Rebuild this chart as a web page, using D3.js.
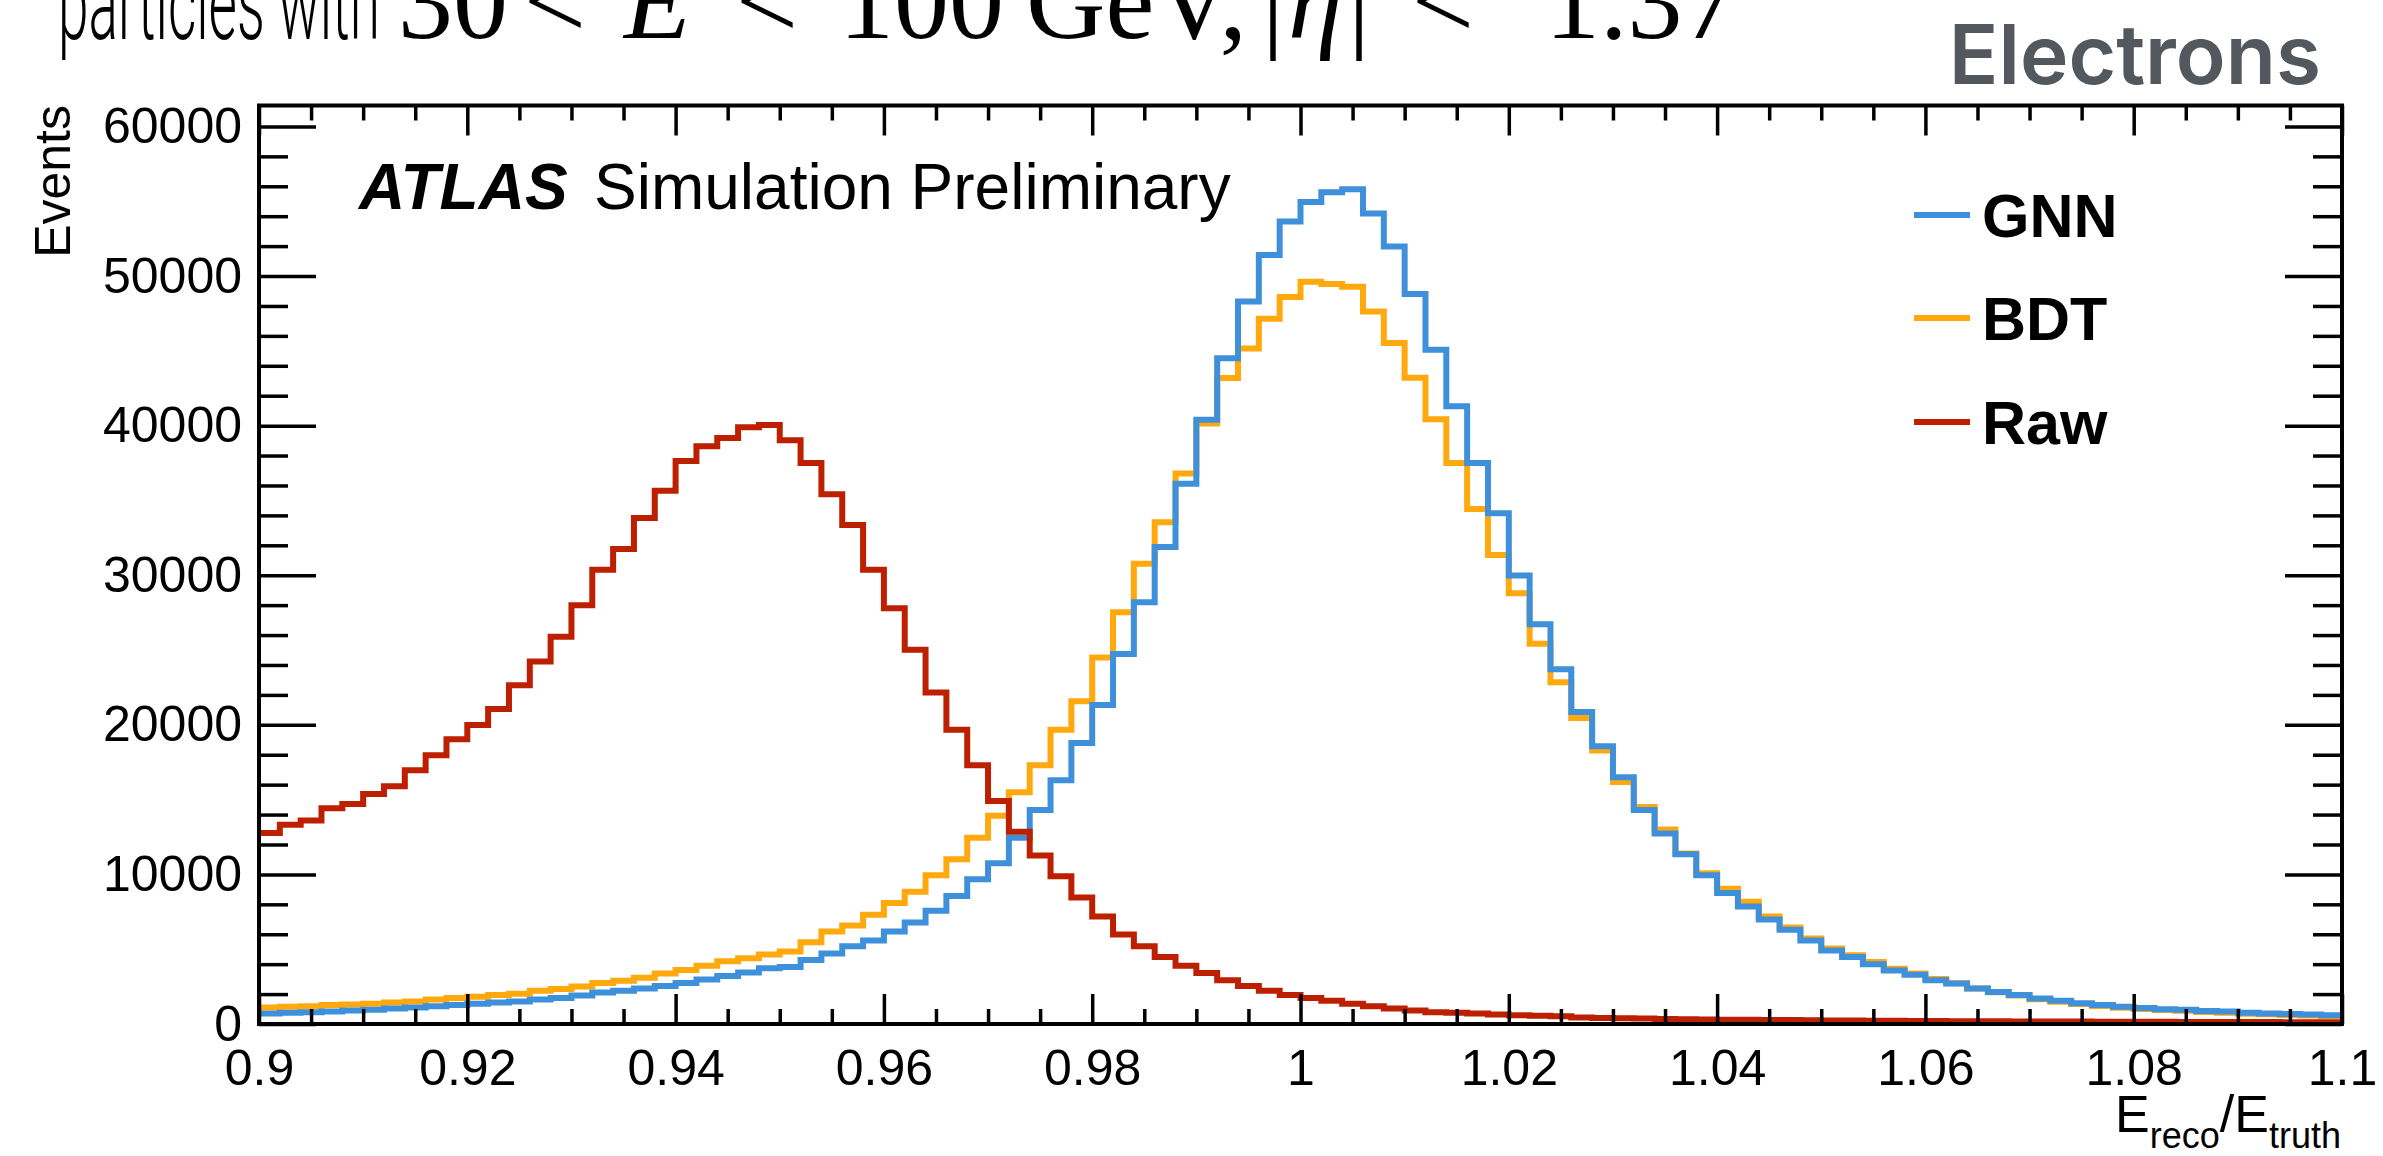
<!DOCTYPE html>
<html>
<head>
<meta charset="utf-8">
<script src="https://cdnjs.cloudflare.com/ajax/libs/d3/7.8.5/d3.min.js"></script>
<style>
  html, body { margin: 0; padding: 0; background: #fff; }
  svg { display: block; }
  .tick text { font-family: "Liberation Sans", Arial, sans-serif; }
</style>
</head>
<body>
<svg width="2383" height="1156"></svg>
<script>
// bins: 100 bins of width 0.002 from 0.9 to 1.1
var binLow = 0.9, binWidth = 0.002;

var gnn = [
  710, 750, 790, 830, 910, 950, 1030, 1110, 1190, 1270,
  1350, 1430, 1510, 1630, 1740, 1900, 2100, 2220, 2380, 2540,
  2740, 2970, 3210, 3450, 3730, 3810, 4280, 4720, 5190, 5590,
  6190, 6780, 7570, 8560, 9670, 10750, 12450, 14310, 16300, 18790,
  21330, 24740, 28190, 31880, 36120, 40400, 44500, 48300, 51400, 53650,
  54950, 55600, 55800, 54180, 51970, 48800, 45080, 41300, 37510, 34140,
  29980, 26730, 23710, 20860, 18560, 16490, 14310, 12730, 11340, 9950,
  8760, 7850, 6980, 6300, 5590, 4920, 4480, 4000, 3570, 3290,
  2930, 2700, 2380, 2140, 1940, 1700, 1550, 1390, 1270, 1150,
  1070, 990, 950, 870, 830, 750, 710, 670, 630, 590
];

var bdt = [
  1110, 1150, 1190, 1270, 1310, 1350, 1430, 1510, 1630, 1740,
  1820, 1940, 2020, 2220, 2340, 2500, 2740, 2890, 3090, 3370,
  3610, 3890, 4200, 4400, 4650, 4850, 5470, 6190, 6580, 7300,
  8090, 8840, 9950, 11020, 12450, 13920, 15500, 17290, 19670, 21570,
  24500, 27520, 30770, 33540, 36800, 40150, 43180, 45150, 47150, 48600,
  49620, 49470, 49290, 47630, 45520, 43200, 40420, 37510, 34420, 31360,
  28790, 25420, 22840, 20460, 18280, 16180, 14510, 13010, 11400, 10070,
  9040, 8170, 7180, 6450, 5710, 5050, 4600, 4150, 3700, 3380,
  3000, 2730, 2380, 2120, 1900, 1650, 1490, 1330, 1200, 1090,
  1000, 930, 880, 800, 760, 690, 650, 610, 570, 540
];

var raw = [
  12770, 13320, 13600, 14430, 14710, 15380, 15900, 16970, 17960, 19030,
  19980, 21050, 22640, 24230, 25890, 27990, 30370, 31760, 33820, 35650,
  37630, 38620, 39170, 39890, 40050, 39020, 37510, 35410, 33350, 30370,
  27790, 25020, 22160, 19670, 17290, 14910, 12850, 11260, 9870, 8450,
  7180, 5990, 5190, 4480, 3890, 3410, 2930, 2540, 2220, 1940,
  1740, 1550, 1350, 1190, 1030, 910, 790, 750, 710, 630,
  590, 555, 515, 440, 400, 380, 360, 340, 320, 300,
  290, 280, 270, 260, 250, 240, 230, 220, 210, 200,
  195, 190, 185, 180, 175, 170, 165, 160, 155, 150,
  150, 145, 140, 140, 135, 130, 130, 125, 120, 120
];

var seriesNames = ["GNN", "BDT", "Raw"];
var seriesColors = ["#3f90da", "#ffa90e", "#bd1f01"];

var xTicks = [0.9, 0.92, 0.94, 0.96, 0.98, 1, 1.02, 1.04, 1.06, 1.08, 1.1];
var yTicks = [0, 10000, 20000, 30000, 40000, 50000, 60000];
var yMax = 61400;

var svg = d3.select("svg"),
    margin = {top: 105.5, right: 41, bottom: 132, left: 259},
    width = +svg.attr("width") - margin.left - margin.right,
    height = +svg.attr("height") - margin.top - margin.bottom,
    g = svg.append("g").attr("transform", "translate(" + margin.left + "," + margin.top + ")");

var x = d3.scaleLinear().domain([0.9, 1.1]).range([0, width]);
var y = d3.scaleLinear().domain([0, yMax]).range([height, 0]);

// minor ticks: every 0.005 on x, every 2000 on y
var xMinor = d3.range(0, 41)
  .filter(function(i) { return i % 4 !== 0; })
  .map(function(i) { return 0.9 + i * 0.005; });
var yMinor = d3.range(0, 31).map(function(i) { return i * 2000; })
  .filter(function(v) { return v % 10000 !== 0 && v <= yMax; });

g.append("clipPath").attr("id", "clip")
  .append("rect").attr("width", width).attr("height", height);

var line = d3.line()
    .x(function(d) { return x(d[0]); })
    .y(function(d) { return y(d[1]); })
    .curve(d3.curveStepAfter);

function steps(vals) {
  var pts = vals.map(function(v, i) { return [binLow + i * binWidth, v]; });
  pts.push([binLow + vals.length * binWidth, vals[vals.length - 1]]);
  return pts;
}

var drawOrder = [[bdt, 1], [gnn, 0], [raw, 2]];
g.append("g").attr("clip-path", "url(#clip)")
  .selectAll("path")
  .data(drawOrder)
  .enter().append("path")
    .attr("d", function(d) { return line(steps(d[0])); })
    .attr("fill", "none")
    .attr("stroke", function(d) { return seriesColors[d[1]]; })
    .attr("stroke-width", 6)
    .attr("stroke-linejoin", "miter");

// axes (ticks point inward, like ROOT)
function styleAxis(sel) {
  sel.select(".domain").remove();
  sel.selectAll("line").attr("stroke", "#000").attr("stroke-width", 3.5);
  sel.selectAll("text").attr("fill", "#000").attr("font-size", 50);
}

g.append("g")
    .attr("transform", "translate(0," + height + ")")
    .call(d3.axisBottom(x).tickValues(xTicks).tickSize(-30).tickPadding(24)
      .tickFormat(function(d) { return d3.format("~g")(d); }))
    .call(styleAxis)
    .selectAll("text").attr("dy", null).attr("y", 61);

g.append("g")
    .attr("transform", "translate(0," + height + ")")
    .call(d3.axisBottom(x).tickValues(xMinor).tickSize(-15).tickFormat(""))
    .call(styleAxis);

g.append("g")
    .call(d3.axisTop(x).tickValues(xTicks).tickSize(-30).tickFormat(""))
    .call(styleAxis);

g.append("g")
    .call(d3.axisTop(x).tickValues(xMinor).tickSize(-15).tickFormat(""))
    .call(styleAxis);

g.append("g")
    .call(d3.axisLeft(y).tickValues(yTicks).tickSize(-57).tickPadding(17).tickFormat(d3.format("d")))
    .call(styleAxis);

g.append("g")
    .call(d3.axisLeft(y).tickValues(yMinor).tickSize(-29).tickFormat(""))
    .call(styleAxis);

g.append("g")
    .attr("transform", "translate(" + width + ",0)")
    .call(d3.axisRight(y).tickValues(yTicks).tickSize(-57).tickFormat(""))
    .call(styleAxis);

g.append("g")
    .attr("transform", "translate(" + width + ",0)")
    .call(d3.axisRight(y).tickValues(yMinor).tickSize(-29).tickFormat(""))
    .call(styleAxis);

// frame
g.append("rect")
    .attr("width", width).attr("height", height)
    .attr("fill", "none").attr("stroke", "#000").attr("stroke-width", 4);

// axis titles
svg.append("text")
    .attr("transform", "translate(70,105) rotate(-90)")
    .attr("text-anchor", "end")
    .attr("font-family", "Liberation Sans, Arial, sans-serif")
    .attr("font-size", 50)
    .text("Events");

var xt = svg.append("text")
    .attr("x", 2341).attr("y", 1132)
    .attr("text-anchor", "end")
    .attr("font-family", "Liberation Sans, Arial, sans-serif")
    .attr("font-size", 52);
xt.append("tspan").text("E");
xt.append("tspan").attr("font-size", 36).attr("dy", 16).text("reco");
xt.append("tspan").attr("dy", -16).text("/E");
xt.append("tspan").attr("font-size", 36).attr("dy", 16).text("truth");

// ATLAS label
var atlas = svg.append("text")
    .attr("x", 359).attr("y", 209)
    .attr("font-family", "Liberation Sans, Arial, sans-serif")
    .attr("font-size", 64);
atlas.append("tspan").attr("font-weight", "bold").attr("font-style", "italic").text("ATLAS");
atlas.append("tspan").attr("x", 594).text("Simulation Preliminary");

// legend
var legendY = [215, 318, 422];
var leg = svg.append("g").selectAll("g")
  .data(seriesNames)
  .enter().append("g")
    .attr("transform", function(d, i) { return "translate(1914," + legendY[i] + ")"; });
leg.append("line")
    .attr("x1", 0).attr("x2", 56)
    .attr("stroke", function(d, i) { return seriesColors[i]; })
    .attr("stroke-width", 6);
leg.append("text")
    .attr("x", 68).attr("y", 22)
    .attr("font-family", "Liberation Sans, Arial, sans-serif")
    .attr("font-weight", "bold")
    .attr("font-size", 61)
    .text(function(d) { return d; });

// header (cut off at the top, as in the original)
svg.append("text")
    .attr("x", 58).attr("y", 39)
    .attr("font-family", "Roboto, sans-serif")
    .attr("font-weight", 300)
    .attr("font-size", 104)
    .attr("textLength", 322)
    .attr("lengthAdjust", "spacingAndGlyphs")
    .text("particles with");

var hdr = svg.append("text")
    .attr("y", 38)
    .attr("font-family", "Liberation Serif, Times New Roman, serif")
    .attr("font-size", 110);
var parts = [
  ["30", 398, false], ["<", 524, false], ["E", 624, true], ["<", 736, false],
  ["100", 839, false], ["GeV,", 1026, false], ["|", 1262, false], ["\u03b7", 1288, true],
  ["|", 1348, false], ["<", 1412, false], ["1.37", 1545, false]
];
parts.forEach(function(p) {
  hdr.append("tspan").attr("x", p[1]).attr("font-style", p[2] ? "italic" : null).text(p[0]);
});

svg.append("text")
    .attr("x", 2321).attr("y", 84)
    .attr("text-anchor", "end")
    .attr("font-family", "Inter, sans-serif")
    .attr("font-weight", 600)
    .attr("font-size", 82)
    .attr("fill", "#53575e")
    .text("Electrons");
</script>
</body>
</html>
